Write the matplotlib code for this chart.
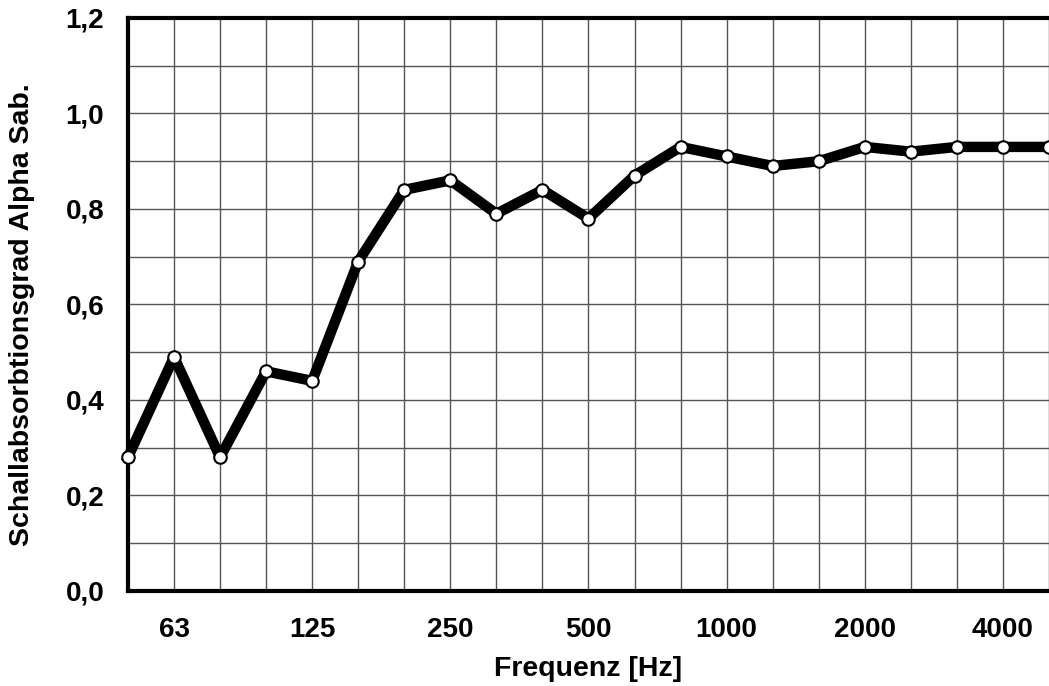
import matplotlib
matplotlib.use("Agg")
import matplotlib.pyplot as plt

plt.rcParams['font.family'] = ['Liberation Sans', 'DejaVu Sans']

# third-octave bands, 50 Hz .. 5000 Hz
bands = ['50', '63', '80', '100', '125', '160', '200', '250', '315', '400', '500',
         '630', '800', '1000', '1250', '1600', '2000', '2500', '3150', '4000', '5000']
alpha = [0.28, 0.49, 0.28, 0.46, 0.44, 0.69, 0.84, 0.86, 0.79, 0.84, 0.78,
         0.87, 0.93, 0.91, 0.89, 0.90, 0.93, 0.92, 0.93, 0.93, 0.93]
labelled = ['63', '125', '250', '500', '1000', '2000', '4000']
y_ticks = [0.0, 0.2, 0.4, 0.6, 0.8, 1.0, 1.2]

fig = plt.figure(figsize=(10.49, 6.86), dpi=100)
ax = fig.add_axes([0.122, 0.1385, 0.878, 0.8353])

x = list(range(len(bands)))
ax.plot(x, alpha, color='black', linewidth=7.5, solid_joinstyle='round', zorder=3,
        marker='o', markersize=9, markerfacecolor='white',
        markeredgecolor='black', markeredgewidth=1.5, clip_on=False)

ax.set_xlim(0, 19.87)
ax.set_ylim(0, 1.2)

# grid: every band and every 0.1
ax.set_xticks(x, minor=True)
ax.set_xticks([bands.index(b) for b in labelled])
ax.set_xticklabels(labelled, fontsize=20, fontweight='bold')
ax.set_yticks([i / 10 for i in range(13)], minor=True)
ax.set_yticks(y_ticks)
ax.set_yticklabels([f"{v:.1f}".replace('.', ',') for v in y_ticks],
                   fontsize=20, fontweight='bold')
ax.grid(True, which='both', color='#555555', linewidth=1.0)
ax.tick_params(which='both', length=0)
ax.tick_params(axis='x', pad=19)
ax.tick_params(axis='y', pad=17)

for side in ['left', 'bottom', 'top']:
    ax.spines[side].set_linewidth(3)
ax.spines['right'].set_visible(False)

ax.set_xlabel('Frequenz [Hz]', fontsize=20.5, fontweight='bold', labelpad=9)
ax.set_ylabel('Schallabsorbtionsgrad Alpha Sab.', fontsize=20.5, fontweight='bold')
ax.yaxis.set_label_coords(-0.101, 0.483)

fig.savefig('out.png', dpi=100)
